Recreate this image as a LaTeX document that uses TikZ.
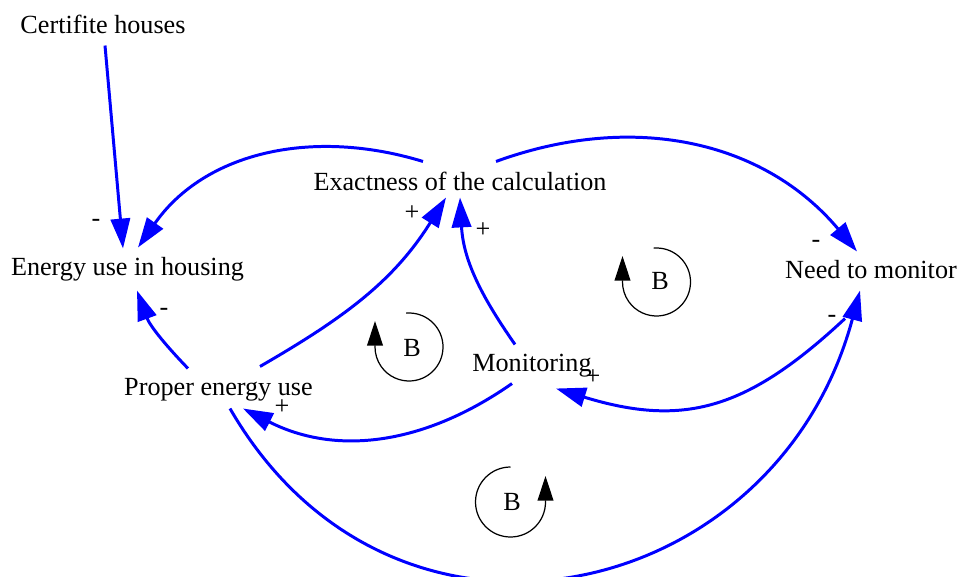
\documentclass[tikz,border=0pt]{standalone}
\usepackage{fontspec}
\setmainfont{Liberation Serif}
\usetikzlibrary{arrows.meta}

\begin{document}
\begin{tikzpicture}[x=0.02cm, y=0.02cm,
  var/.style={inner sep=1pt, text height=10pt, text depth=3pt, font=\fontsize{14.9}{17}\selectfont},
  sgn/.style={inner sep=0pt, font=\fontsize{14.9}{17}\selectfont},
  link/.style={draw=blue, line width=1.7pt, -{Triangle[length=17pt,width=11pt]}},
  loopline/.style={line width=0.7pt, -{Triangle[length=14pt,width=9pt]}}]
  \useasboundingbox (0,0) rectangle (962,-577);
  % variables
  \node[var] (cert) at (103,-27) {Certifite houses};
  \node[var] (exact) at (460,-184) {Exactness of the calculation};
  \node[var] (energy) at (127.5,-269) {Energy use in housing};
  \node[var] (need) at (871,-272) {Need to monitor};
  \node[var] (proper) at (218.5,-389) {Proper energy use};
  \node[var] (monit) at (532,-365) {Monitoring};
  % links
  \draw[link] ([shift={(2,-5)}]cert.south) -- ([shift={(-4.5,7)}]energy.north);
  \draw[link] ([shift={(-37,9)}]exact.north) to[out=163, in=55] ([shift={(10.5,8)}]energy.north);
  \draw[link] ([shift={(36,9)}]exact.north) to[out=20, in=130] ([shift={(-14,7)}]need.north);
  \draw[link] ([shift={(-30.5,7)}]proper.north) to[out=134, in=-70] ([shift={(9.5,-8)}]energy.south);
  \draw[link] ([shift={(41.5,9)}]proper.north) to[out=30, in=238] ([shift={(-14,0)}]exact.south);
  \draw[link] ([shift={(-17,7)}]monit.north) to[out=125, in=-87] (exact.south);
  \draw[link] ([shift={(-20,-5)}]monit.south) to[out=215, in=-27] ([shift={(24.5,-6)}]proper.south);
  \draw[link] ([shift={(-26,-33)}]need.south) to[out=223, in=-17, looseness=1.15] ([shift={(24,-10)}]monit.south);
  \draw[link] ([shift={(11.5,-6)}]proper.south) to[out=-60, in=255, looseness=1.3] ([shift={(-11,-5)}]need.south);
  % polarities
  \node[sgn] (s1) at (96,-223) {-};
  \node[sgn] (s2) at (164,-312) {-};
  \node[sgn] (s3) at (412,-213) {+};
  \node[sgn] (s4) at (483,-230) {+};
  \node[sgn] (s5) at (816,-244) {-};
  \node[sgn] (s6) at (832,-319) {-};
  \node[sgn] (s7) at (593,-377) {+};
  \node[sgn] (s8) at (282,-407) {+};
  % loops
  \draw[loopline] (409,-347) ++(95:34) arc[start angle=95, end angle=-180, radius=34] -- ++(0,26);
  \node[sgn] (b1) at (412,-348) {B};
  \draw[loopline] (656.5,-282) ++(95:34) arc[start angle=95, end angle=-180, radius=34] -- ++(0,26);
  \node[sgn] (b2) at (660,-281) {B};
  \draw[loopline] (510.5,-502) ++(90:35) arc[start angle=90, end angle=360, radius=35] -- ++(0,26);
  \node[sgn] (b3) at (512,-502) {B};
\end{tikzpicture}
\end{document}
